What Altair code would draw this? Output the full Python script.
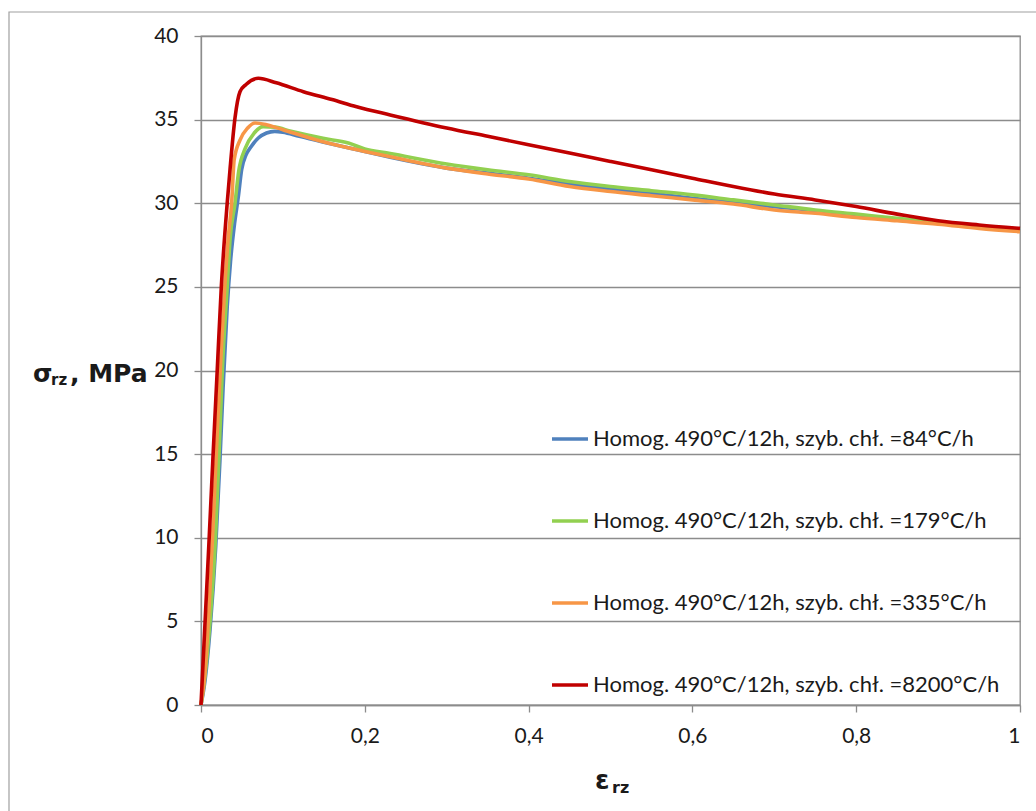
import altair as alt
import pandas as pd

# Flow curves: true strain (eps_rz) vs flow stress (sigma_rz, MPa)
series_labels = [
    "Homog. 490°C/12h, szyb. chł. =84°C/h",
    "Homog. 490°C/12h, szyb. chł. =179°C/h",
    "Homog. 490°C/12h, szyb. chł. =335°C/h",
    "Homog. 490°C/12h, szyb. chł. =8200°C/h",
]
series_colors = ["#4F81BD", "#92D050", "#F79646", "#C00000"]

strain_84 = [0, 0.005, 0.011, 0.018, 0.023, 0.027, 0.032, 0.036, 0.041, 0.0456, 0.0496, 0.055, 0.06,
             0.07, 0.08, 0.09, 0.10, 0.12, 0.15, 0.20, 0.231, 0.25, 0.30, 0.35, 0.40, 0.45,
             0.50, 0.55, 0.60, 0.65, 0.70, 0.75, 0.80, 0.85, 0.90, 0.95, 1.0]
stress_84 = [0, 1.5, 4.5, 9.5, 14.5, 19.0, 23.8, 26.5, 28.8, 30.4, 32.0, 32.9, 33.3,
             33.9, 34.2, 34.3, 34.25, 34.0, 33.65, 33.1, 32.75, 32.55, 32.1, 31.8, 31.5, 31.15,
             30.85, 30.6, 30.3, 30.05, 29.8, 29.55, 29.25, 29.0, 28.8, 28.55, 28.35]

strain_179 = [0, 0.005, 0.011, 0.0177, 0.022, 0.026, 0.032, 0.0354, 0.0415, 0.046, 0.054, 0.065, 0.076,
              0.09, 0.11, 0.149, 0.18, 0.20, 0.231, 0.25, 0.30, 0.35, 0.40, 0.45, 0.50, 0.55,
              0.60, 0.65, 0.70, 0.75, 0.80, 0.85, 0.90, 0.95, 1.0]
stress_179 = [0, 1.8, 5.0, 10.0, 15.0, 20.0, 25.0, 27.8, 30.0, 31.9, 33.28, 34.2, 34.58,
              34.55, 34.3, 33.88, 33.6, 33.25, 32.98, 32.8, 32.35, 32.0, 31.7, 31.3, 31.0, 30.75,
              30.5, 30.2, 29.9, 29.6, 29.35, 29.1, 28.85, 28.6, 28.4]

strain_335 = [0, 0.005, 0.01, 0.015, 0.02, 0.025, 0.029, 0.033, 0.0374, 0.0405, 0.0476, 0.057, 0.066,
              0.08, 0.10, 0.149, 0.20, 0.231, 0.30, 0.35, 0.40, 0.45, 0.50, 0.55, 0.60,
              0.65, 0.70, 0.75, 0.80, 0.85, 0.90, 0.95, 1.0]
stress_335 = [0, 2.0, 6.0, 11.0, 16.5, 21.5, 25.0, 27.8, 30.0, 32.6, 33.78, 34.5, 34.8,
              34.7, 34.4, 33.68, 33.1, 32.78, 32.1, 31.75, 31.45, 31.0, 30.7, 30.45, 30.2,
              29.95, 29.6, 29.4, 29.15, 28.95, 28.75, 28.5, 28.3]

strain_8200 = [0, 0.005, 0.010, 0.0148, 0.0198, 0.0248, 0.032, 0.0354, 0.0415, 0.0476, 0.055, 0.07,
               0.092, 0.125, 0.16, 0.19, 0.231, 0.30, 0.35, 0.40, 0.45, 0.50, 0.55, 0.60,
               0.65, 0.70, 0.75, 0.80, 0.85, 0.90, 0.95, 1.0]
stress_8200 = [0, 5, 10, 15, 20, 25, 30, 32.0, 35.1, 36.67, 37.1, 37.47,
               37.2, 36.67, 36.2, 35.77, 35.28, 34.5, 34.0, 33.5, 33.0, 32.5, 32.0, 31.5,
               31.0, 30.55, 30.2, 29.8, 29.35, 28.95, 28.7, 28.5]

x_ticks = [0, 0.2, 0.4, 0.6, 0.8, 1.0]
y_ticks = [0, 5, 10, 15, 20, 25, 30, 35, 40]

rows = []
for k, (xs, ys) in enumerate([(strain_84, stress_84), (strain_179, stress_179),
                              (strain_335, stress_335), (strain_8200, stress_8200)]):
    for i, (e, s) in enumerate(zip(xs, ys)):
        rows.append({"series": series_labels[k], "layer": k, "idx": i, "strain": e, "stress": s})
df = pd.DataFrame(rows)

GRID = "#8C8C8C"
TXT = "#1A1A1A"

lines = alt.Chart(df).mark_line(strokeWidth=3.6, interpolate="monotone").encode(
    x=alt.X("strain:Q", scale=alt.Scale(domain=[0, 1], nice=False),
            axis=alt.Axis(values=x_ticks, grid=False, title=None, format="~g",
                          labelExpr="replace(datum.label, '.', ',')")),
    y=alt.Y("stress:Q", scale=alt.Scale(domain=[0, 40], nice=False),
            axis=alt.Axis(values=y_ticks, grid=True, title=None, labelPadding=16)),
    color=alt.Color("series:N",
                    scale=alt.Scale(domain=series_labels, range=series_colors),
                    sort=series_labels,
                    legend=alt.Legend(orient="none", legendX=349, legendY=383, title=None,
                                      symbolType="stroke", symbolSize=1296,
                                      symbolStrokeWidth=3.6, labelFont="Lato",
                                      labelFontSize=22, labelColor=TXT, labelOffset=3,
                                      rowPadding=51, labelLimit=600)),
    detail="layer:N",
    order="idx:Q",
)

# Outer chart-area frame
frame = alt.Chart(pd.DataFrame({"a": [0]})).mark_rect(
    fill=None, stroke="#A0A0A0", strokeWidth=1.2
).encode(x=alt.value(-192), x2=alt.value(900), y=alt.value(-24), y2=alt.value(900))

# Axis titles with subscripts: Greek symbol + subscript + unit
titles_df = pd.DataFrame({"t": ["σ", "rz", ", MPa", "ε", "rz"],
                          "px": [-168, -150, -131, 394, 411],
                          "py": [346, 349, 346, 753, 757],
                          "fs": [25, 15, 25, 26, 16]})

titles = alt.Chart(titles_df).mark_text(
    align="left", baseline="alphabetic", fontWeight="bold", color=TXT, font="DejaVu Sans"
).encode(x=alt.X("px:Q", scale=None), y=alt.Y("py:Q", scale=None), text="t:N",
         size=alt.Size("fs:Q", scale=None, legend=None))

chart = alt.layer(frame, lines, titles).properties(
    width=819, height=669,
    background="white",
    autosize=alt.AutoSizeParams(type="none"),
    padding={"left": 201, "top": 36, "right": 16, "bottom": 106},
).configure_view(stroke=GRID, strokeWidth=1.3).configure_axis(
    domainColor=GRID, domainWidth=1.3, tickColor=GRID, tickWidth=1.3, tickSize=7,
    gridColor=GRID, gridWidth=1.3, labelFont="Lato", labelFontSize=21, labelColor=TXT,
).configure_axisX(labelPadding=13)

chart.save("out.html", embed_options={"renderer": "svg", "actions": False})
